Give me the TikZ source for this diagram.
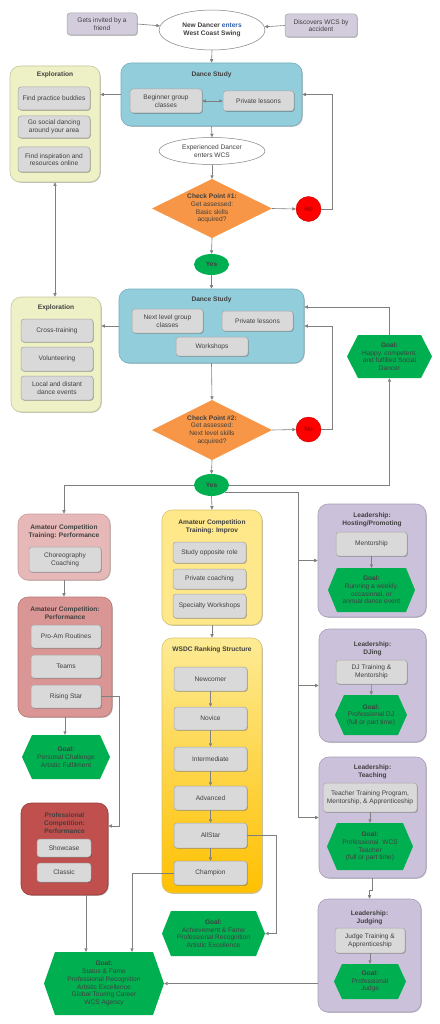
\documentclass[tikz,border=0pt]{standalone}
\usepackage{fontspec}
\setmainfont{Liberation Sans}
\usetikzlibrary{arrows.meta,shapes.geometric,shadows,calc}
\definecolor{lin}{HTML}{7F7F7F}
\definecolor{txt}{HTML}{404040}
\definecolor{gfill}{HTML}{D9D9D9}
\definecolor{gdraw}{HTML}{A6A6A6}
\definecolor{lav}{HTML}{D2CCDD}
\definecolor{expl}{HTML}{EEF0C6}
\definecolor{expld}{HTML}{C6C79C}
\definecolor{dsf}{HTML}{92CDDC}
\definecolor{dsd}{HTML}{74AFBF}
\definecolor{pkA}{HTML}{E6B9B8}
\definecolor{pkAd}{HTML}{C89C9B}
\definecolor{pkB}{HTML}{D99694}
\definecolor{pkBd}{HTML}{B87775}
\definecolor{rd}{HTML}{C0504D}
\definecolor{rdd}{HTML}{9B3C39}
\definecolor{yl}{HTML}{FEE88A}
\definecolor{yld}{HTML}{D8C36A}
\definecolor{wtop}{HTML}{FDEB95}
\definecolor{wbot}{HTML}{FFC000}
\definecolor{pu}{HTML}{CCC1DA}
\definecolor{pud}{HTML}{A99DB9}
\definecolor{gr}{HTML}{00B050}
\definecolor{org}{HTML}{F79646}
\definecolor{nored}{HTML}{FF0000}
\definecolor{notxt}{HTML}{800000}
\definecolor{entc}{HTML}{2E5FA8}
\newcommand\fs{\fontsize{6.6}{7.7}\selectfont}
\newcommand\BOX[7]{\node[#2, minimum width={#5-#3}, minimum height={#6-#4}] (#1) at ({(#3+#5)/2},{(#4+#6)/2}) {#7};}
\tikzset{
  shadowed/.style={drop shadow={shadow xshift=0.8pt,shadow yshift=-0.8pt,opacity=0.25,fill=black}},
  cont/.style={rounded corners=10pt, line width=0.6pt, shadowed},
  gbox/.style={rounded corners=3pt, fill=gfill, draw=gdraw, line width=0.5pt, text=txt, align=center, inner sep=1pt, shadowed},
  lavbox/.style={gbox, fill=lav},
  ttl/.style={font=\fs\bfseries, text=txt, align=center, inner sep=0},
  arr/.style={draw=lin, line width=0.6pt, -{Triangle[length=3.5pt,width=3.2pt]}},
  darr/.style={draw=lin, line width=0.6pt, {Triangle[length=3.5pt,width=3.2pt]}-{Triangle[length=3.5pt,width=3.2pt]}},
  ell/.style={ellipse, draw=lin, fill=white, line width=0.5pt, inner sep=0, align=center, text=txt},
  hexg/.style={align=center, inner sep=0, text=txt,
    path picture={\fill[gr] (path picture bounding box.west) -- ([xshift=#1pt]path picture bounding box.north west) -- ([xshift=-#1pt]path picture bounding box.north east) -- (path picture bounding box.east) -- ([xshift=-#1pt]path picture bounding box.south east) -- ([xshift=#1pt]path picture bounding box.south west) -- cycle;}},
  hexg/.default=10,
  diam/.style={align=center, inner sep=0, text=txt,
    path picture={\fill[org] (path picture bounding box.west) -- (path picture bounding box.north) -- (path picture bounding box.east) -- (path picture bounding box.south) -- cycle;}},
}
\begin{document}
\begin{tikzpicture}[x=1pt,y=-1pt, every node/.style={font=\fs}]
\fill[white] (0,0) rectangle (439,1024);
\useasboundingbox (0,0) rectangle (439,1024);

% ---- top
\BOX{invite}{lavbox}{67}{13}{137}{35}{Gets invited by a\\friend}
\node[ell, minimum width=106, minimum height=40, font=\fs\bfseries] (newd) at (212,30) {New Dancer \textcolor{entc}{enters}\\West Coast Swing};
\BOX{disc}{lavbox}{285}{14}{357}{37}{Discovers WCS by\\accident}
\draw[arr] (invite.east) -- (newd);
\draw[arr] (disc.west) -- (newd);

% ---- Dance study 1
\BOX{ds1}{cont, fill=dsf, draw=dsd}{121}{63}{302}{126}{}
\node[ttl] (ds1t) at (211.5,75) {Dance Study};
\BOX{beg}{gbox}{130}{89}{202}{113}{Beginner group\\classes}
\BOX{priv1}{gbox}{223}{91}{294}{111}{Private lessons}
\draw[darr] (beg) -- (priv1);
\draw[arr] (newd.south) -- (ds1.north);

% ---- Exploration 1
\BOX{ex1}{cont, fill=expl, draw=expld}{10}{66}{100}{182}{}
\node[ttl] (ex1t) at (55,75) {Exploration};
\BOX{fpb}{gbox}{18}{87}{90}{110}{Find practice buddies}
\BOX{gsd}{gbox}{18}{116}{90}{138}{Go social dancing\\around your area}
\BOX{fir}{gbox}{18}{147}{90}{172}{Find inspiration and\\resources online}
\draw[arr] (ds1.west) -- (ds1.west -| ex1.east);

% ---- checkpoint 1
\node[ell, minimum width=106, minimum height=27] (expd) at (212,151) {Experienced Dancer\\enters WCS};
\draw[arr] (ds1.south) -- (expd.north);
\node[diam, minimum width=120, minimum height=59] (cp1) at (212,208.5) {\textbf{Check Point \#1:}\\Get assessed:\\Basic skills\\acquired?};
\draw[arr] (expd.south) -- (cp1.north);
\node[circle, fill=nored, draw=red!80!black, line width=0.4pt, minimum size=25, inner sep=0, text=notxt] (no1) at (308.5,209) {No};
\draw[arr] (cp1.east) -- (no1.west);
\draw[arr] (no1.east) -- ++(11,0) |- (ds1.east);
\node[ellipse, fill=gr, minimum width=35, minimum height=21, inner sep=0, text=txt, font=\fs\bfseries] (yes1) at (211.5,264.5) {Yes};
\draw[arr] (cp1.south) -- (yes1.north);

% ---- Dance study 2
\BOX{ds2}{cont, fill=dsf, draw=dsd}{119}{289}{304}{363}{}
\node[ttl] (ds2t) at (211.5,300) {Dance Study};
\BOX{nlg}{gbox}{132}{309}{203}{333}{Next level group\\classes}
\BOX{priv2}{gbox}{222}{311}{293}{331}{Private lessons}
\BOX{work}{gbox}{176}{337}{248}{356}{Workshops}
\draw[arr] (yes1.south) -- (ds2.north);

% ---- Exploration 2
\BOX{ex2}{cont, fill=expl, draw=expld}{11}{297}{101}{412}{}
\node[ttl] (ex2t) at (56,308) {Exploration};
\BOX{cross}{gbox}{21}{319}{93}{342}{Cross-training}
\BOX{vol}{gbox}{21}{347}{93}{371}{Volunteering}
\BOX{local}{gbox}{21}{376}{93}{400}{Local and distant\\dance events}
\draw[arr] (ds2.west) -- (ds2.west -| ex2.east);
\draw[darr] (ex1.south) -- (ex1.south |- ex2.north);

% ---- checkpoint 2
\node[diam, minimum width=120, minimum height=60] (cp2) at (212,430) {\textbf{Check Point \#2:}\\Get assessed:\\Next level skills\\acquired?};
\draw[arr] (ds2.south) -- (cp2.north);
\node[circle, fill=nored, draw=red!80!black, line width=0.4pt, minimum size=25, inner sep=0, text=notxt] (no2) at (308.5,429.5) {No};
\draw[arr] (cp2.east) -- (no2.west);
\draw[arr] (no2.east) -- ++(11,0) |- (ds2.east);
\node[ellipse, fill=gr, minimum width=35, minimum height=22, inner sep=0, text=txt, font=\fs\bfseries] (yes2) at (211.5,485) {Yes};
\draw[arr] (cp2.south) -- (yes2.north);
\BOX{ghap}{hexg=11}{347}{335}{432}{378}{\textbf{Goal:}\\Happy, competent,\\and fulfilled Social\\Dancer}
\draw[arr] (yes2.east) -| (ghap.south);
\draw[arr] (ghap.north) |- ([yshift=19pt]ds2.east);

% ---- Amateur competition performance column
\BOX{act}{cont, fill=pkA, draw=pkAd}{18}{514}{110}{580}{}
\node[ttl] (actt) at (64,532) {Amateur Competition\\Training: Performance};
\BOX{chor}{gbox}{29}{547}{101}{572}{Choreography\\Coaching}
\draw[arr] (yes2.west) -| (act.north);
\BOX{acp}{cont, fill=pkB, draw=pkBd}{18}{597}{112}{717}{}
\node[ttl] (acpt) at (65,613) {Amateur Competition:\\Performance};
\BOX{proam}{gbox}{31}{625}{101}{648}{Pro-Am Routines}
\BOX{teams}{gbox}{31}{655}{101}{678}{Teams}
\BOX{rising}{gbox}{31}{685}{101}{708}{Rising Star}
\draw[arr] (act.south) -- (act.south |- acp.north);
\BOX{gpc}{hexg=10}{22}{735}{110}{779}{\textbf{Goal:}\\Personal Challenge\\Artistic Fulfilment}
\draw[arr] (acp.south) -- (acp.south |- gpc.north);
\BOX{pcp}{cont, fill=rd, draw=rdd}{21}{803}{108}{895}{}
\node[ttl, text=black!75] (pcpt) at (64.5,823) {Professional\\Competition:\\Performance};
\BOX{show}{gbox}{37}{839}{91}{857}{Showcase}
\BOX{classic}{gbox}{37}{863}{91}{882}{Classic}
\draw[arr] (rising.east) -- ++(18,0) |- ([yshift=23pt]pcp.east);
\BOX{gsf}{hexg=11}{44}{952}{164}{1015}{\textbf{Goal:}\\Status \& Fame\\Professional Recognition\\Artistic Excellence\\Global Touring Career\\WCS Agency}
\draw[arr] ([xshift=21.5pt]pcp.south) -- ([xshift=21.5pt]pcp.south |- gsf.north);

% ---- Improv / WSDC column
\BOX{imp}{cont, fill=yl, draw=yld}{162}{510}{262}{625}{}
\node[ttl] (impt) at (212,527) {Amateur Competition\\Training: Improv};
\BOX{sor}{gbox}{173}{542}{246}{563}{Study opposite role}
\BOX{pcoach}{gbox}{173}{569}{246}{589}{Private coaching}
\BOX{sws}{gbox}{173}{594}{246}{618}{Specialty Workshops}
\draw[arr] (yes2.south) -- (imp.north);
\BOX{wsdc}{cont, top color=wtop, bottom color=wbot, draw=yld}{162}{638}{262}{893}{}
\node[ttl] (wsdct) at (212,650) {WSDC Ranking Structure};
\draw[arr] (imp.south) -- (wsdc.north);
\BOX{newc}{gbox}{174}{667}{247}{691}{Newcomer}
\BOX{nov}{gbox}{174}{707}{247}{730}{Novice}
\BOX{inter}{gbox}{174}{747}{247}{771}{Intermediate}
\BOX{adv}{gbox}{174}{786}{247}{810}{Advanced}
\BOX{allstar}{gbox}{174}{823}{247}{848}{AllStar}
\BOX{champ}{gbox}{174}{861}{247}{885}{Champion}
\draw[arr] (newc) -- (nov);
\draw[arr] (nov) -- (inter);
\draw[arr] (inter) -- (adv);
\draw[arr] (adv) -- (allstar);
\draw[arr] (allstar) -- (champ);
\BOX{gaf}{hexg=9}{162}{911}{265}{956}{\textbf{Goal:}\\Achievement \& Fame\\Professional Recognition\\Artistic Excellence}
\draw[arr] (allstar.east) -- ++(29,0) |- (gaf.east);
\draw[arr] (champ.west) -| ([xshift=28pt]gsf.north);

% ---- Leadership column
\BOX{host}{cont, fill=pu, draw=pud}{318}{504}{426}{617}{}
\node[ttl] (hostt) at (372,520) {Leadership:\\Hosting/Promoting};
\BOX{ment}{gbox}{336}{532}{407}{556}{Mentorship}
\BOX{ghost}{hexg=9}{328}{568}{415}{612}{\textbf{Goal:}\\Running a weekly,\\occasional, or\\annual dance event}
\draw[arr] (ment) -- (ghost);

\BOX{dj}{cont, fill=pu, draw=pud}{319}{629}{426}{742}{}
\node[ttl] (djt) at (372.5,649) {Leadership:\\DJing};
\BOX{djtr}{gbox}{336}{660}{407}{684}{DJ Training \&\\Mentorship}
\BOX{gdj}{hexg=9}{335}{695}{407}{735}{\textbf{Goal:}\\Professional DJ\\(full or part time)}
\draw[arr] (djtr) -- (gdj);

\BOX{teach}{cont, fill=pu, draw=pud}{319}{757}{426}{878}{}
\node[ttl] (teacht) at (372.5,772) {Leadership:\\Teaching};
\BOX{ttp}{gbox}{323}{783}{417}{812}{Teacher Training Program,\\Mentorship, \& Apprenticeship}
\BOX{gtc}{hexg=10}{327}{823}{413}{870}{\textbf{Goal:}\\Professional\ \ WCS\\Teacher\\(full or part time)}
\draw[arr] (ttp) -- (gtc);

\BOX{judge}{cont, fill=pu, draw=pud}{318}{899}{421}{1012}{}
\node[ttl] (judget) at (369.5,918) {Leadership:\\Judging};
\BOX{jta}{gbox}{335}{928}{405}{953}{Judge Training \&\\Apprenticeship}
\BOX{gj}{hexg=8}{334}{964}{406}{999}{\textbf{Goal:}\\Professional\\Judge}
\draw[arr] (jta) -- (gj);
\draw[arr] (teach.south) -- ++(0,12) -| (judge.north);
\draw[arr] (gsf.east -| judge.west) -- (gsf.east);

% bus from Yes to leadership
\draw[arr] (yes2.-30) -| ([xshift=-20pt]teach.west) -- (teach.west);
\draw[arr] ([xshift=-20pt]teach.west |- host.west) -- (host.west);
\draw[arr] ([xshift=-20pt]teach.west |- dj.west) -- (dj.west);
\end{tikzpicture}
\end{document}
